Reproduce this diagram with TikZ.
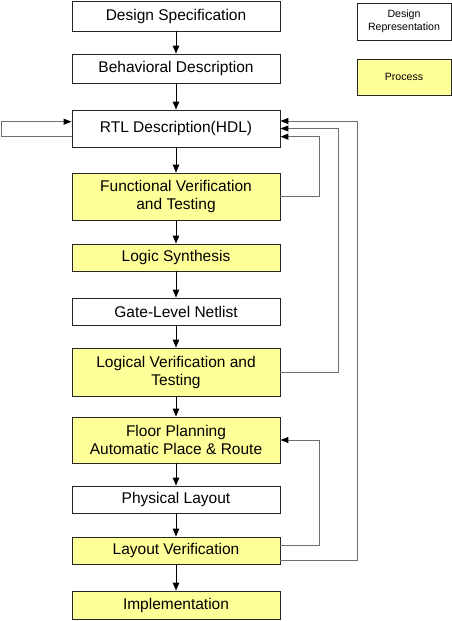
\documentclass[tikz,border=0pt]{standalone}
\usepackage{fontspec}
\setmainfont{Liberation Sans}
\usetikzlibrary{arrows.meta,calc}
\definecolor{procfill}{HTML}{FFFF99}
\definecolor{fbgray}{HTML}{6E6E6E}
\tikzset{
  box/.style={draw=black!85, line width=0.9pt, rectangle, minimum width=208pt, inner sep=0pt,
    align=center, font=\fontsize{15.5}{18}\selectfont},
  rep/.style={box, fill=white},
  proc/.style={box, fill=procfill},
  flow/.style={draw=black, line width=0.9pt, -{Triangle[length=8pt,width=6.5pt]}},
  fb/.style={draw=fbgray, line width=1pt, -{Triangle[length=8pt,width=6pt,fill=black,color=black]}},
  legbox/.style={draw=black!85, line width=0.9pt, rectangle, minimum width=94pt, inner sep=0pt,
    align=center, font=\fontsize{10.6}{12.5}\selectfont}
}
\begin{document}
\begin{tikzpicture}[x=1pt,y=-1pt]
\useasboundingbox (0,0) rectangle (452,621);
\node[rep, minimum height=30pt] (spec) at (176,16) {Design Specification};
\node[rep, minimum height=29pt] (beh) at (176,68.5) {Behavioral Description};
\node[rep, minimum height=37pt] (rtl) at (176,128.5) {RTL Description(HDL)};
\node[proc, minimum height=47pt] (func) at (176,196.5) {Functional Verification\\and Testing};
\node[proc, minimum height=27pt] (logic) at (176,257.5) {Logic Synthesis};
\node[rep, minimum height=27pt] (gate) at (176,311.5) {Gate-Level Netlist};
\node[proc, minimum height=48pt] (logv) at (176,372) {Logical Verification and\\Testing};
\node[proc, minimum height=46pt] (floor) at (176,440) {Floor Planning\\Automatic Place \& Route};
\node[rep, minimum height=27pt] (phys) at (176,499.5) {Physical Layout};
\node[proc, minimum height=27pt] (layv) at (176,550.5) {Layout Verification};
\node[proc, minimum height=28pt] (impl) at (176,605) {Implementation};

\node[legbox, fill=white, minimum height=37pt] (legrep) at (404,21.5) {Design\\Representation};
\node[legbox, fill=procfill, minimum height=36pt] (legproc) at (404,77) {Process};

\draw[flow] (spec) -- (beh);
\draw[flow] (beh) -- (rtl);
\draw[flow] (rtl) -- (func);
\draw[flow] (func) -- (logic);
\draw[flow] (logic) -- (gate);
\draw[flow] (gate) -- (logv);
\draw[flow] (logv) -- (floor);
\draw[flow] (floor) -- (phys);
\draw[flow] (phys) -- (layv);
\draw[flow] (layv) -- (impl);

% feedback loops
\draw[fb] (func.east) -- (319.3,196.5) |- ($(rtl.east)+(0,8.2)$);
\draw[fb] (logv.east) -- (338.3,372) |- (rtl.east);
\draw[fb] ($(layv.east)+(0,9.5)$) -- (357.3,560) |- ($(rtl.east)+(0,-7.5)$);
\draw[fb] ($(layv.east)+(0,-5.5)$) -- (319.3,545) |- (floor.east);
\draw[fb] ($(rtl.west)+(0,7.5)$) -- (1,136) |- ($(rtl.west)+(0,-6.8)$);
\end{tikzpicture}
\end{document}
